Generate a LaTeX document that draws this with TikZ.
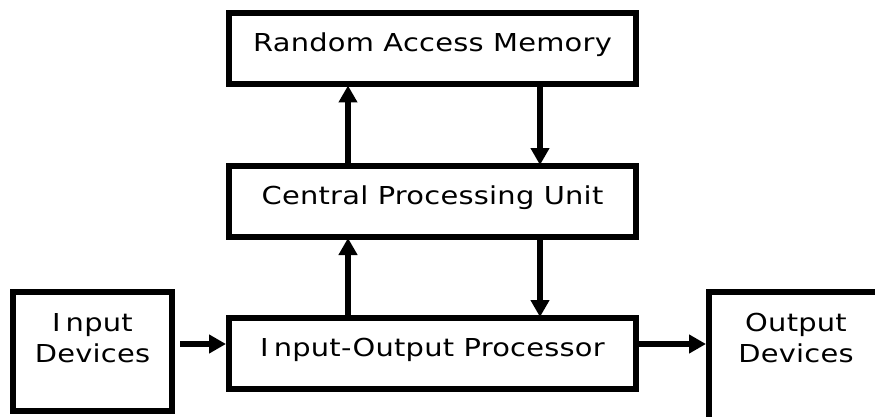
\documentclass[tikz,border=0pt]{standalone}
\usepackage{fontspec}
\setmainfont[FakeStretch=1.17,LetterSpace=1]{DejaVu Sans}
\usetikzlibrary{arrows.meta}
\newcommand{\In}{I\kern5pt nput}
\begin{document}
\begin{tikzpicture}[x=1pt,y=-1pt,
  box/.style={draw=black,line width=6pt,fill=white,inner sep=0pt},
  lbl/.style={font=\fontsize{24.7}{31}\selectfont,text=black},
  onebox/.style={box,lbl,minimum width=407pt,minimum height=71pt,text height=12pt,text depth=6pt},
  arr/.style={line width=6pt,-{Triangle[width=18pt,length=17pt]}}]
\useasboundingbox (0,0) rectangle (875,417);
\clip (0,0) rectangle (875,417);
\node[onebox] (ram) at (432.5,49) {Random Access Memory};
\node[onebox] (cpu) at (432.5,201.5) {Central Processing Unit};
\node[onebox] (iop) at (432.5,353.5) {\In-Output Processor};
\node[box,minimum width=159pt,minimum height=119pt] (in) at (92.5,351.5) {};
\node[box,minimum width=174pt,minimum height=160pt,anchor=north west] (out) at (706,289) {};
\node[lbl,align=center,anchor=north,inner sep=0pt] (intxt) at (92.5,313) {\In\\Devices};
\node[lbl,align=center,anchor=north,inner sep=0pt] (outtxt) at (796,313) {Output\\Devices};
\coordinate (xl) at (348,0);
\coordinate (xr) at (540,0);
\coordinate (yh) at (0,344);
\draw[arr] (iop.north -| xl) -- ([yshift=2pt]cpu.south -| xl);
\draw[arr] (cpu.north -| xl) -- ([yshift=2pt]ram.south -| xl);
\draw[arr] ([yshift=1pt]ram.south -| xr) -- ([yshift=-2pt]cpu.north -| xr);
\draw[arr] ([yshift=2pt]cpu.south -| xr) -- ([yshift=-2pt]iop.north -| xr);
\draw[arr] ([xshift=5pt]in.east |- yh) -- (iop.west |- yh);
\draw[arr] (iop.east |- yh) -- (out.west |- yh);
\end{tikzpicture}
\end{document}
